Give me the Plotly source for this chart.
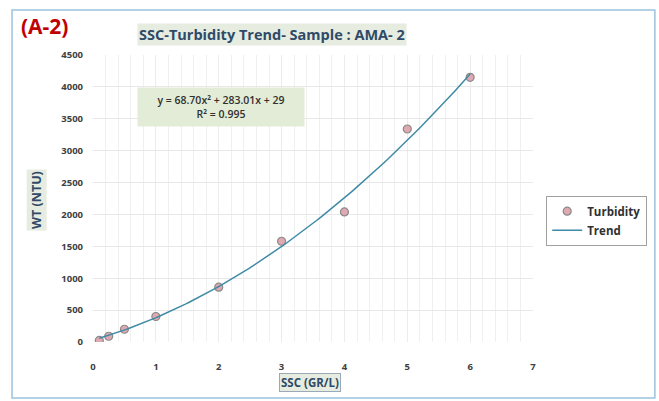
import plotly.graph_objects as go
import numpy as np

ssc = [0.1, 0.25, 0.5, 1, 2, 3, 4, 5, 6]
turbidity = [25, 90, 200, 400, 860, 1580, 2040, 3340, 4150]
coef = [68.70, 283.01, 29]
x_ticks = [0, 1, 2, 3, 4, 5, 6, 7]
y_ticks = [0, 500, 1000, 1500, 2000, 2500, 3000, 3500, 4000, 4500]

xt = np.linspace(min(ssc), max(ssc), 100)
yt = coef[0] * xt**2 + coef[1] * xt + coef[2]

fig = go.Figure()
fig.add_trace(go.Scatter(x=ssc, y=turbidity, mode="markers", name="Turbidity",
                         marker=dict(size=8, color="#e0a9b1", line=dict(color="#8a8a8a", width=1.2))))
fig.add_trace(go.Scatter(x=xt, y=yt, mode="lines", name="Trend",
                         line=dict(color="#3f8aa6", width=1.5)))

tf = dict(size=9.5, color="#404040", family="Open Sans", weight="bold")
fig.update_layout(
    width=659, height=401,
    margin=dict(l=93, r=126, t=55, b=59),
    paper_bgcolor="white", plot_bgcolor="white",
    font=dict(family="Open Sans", color="#404040"),
    showlegend=True,
    legend=dict(x=1.03, y=0.51, xanchor="left", yanchor="top",
                bordercolor="#a0a0a0", borderwidth=1, bgcolor="white", tracegroupgap=0,
                itemwidth=30,
                font=dict(size=11.5, color="#303030", family="Open Sans", weight="bold")),
    xaxis=dict(range=[0, 7], tickvals=x_ticks, showgrid=True, gridcolor="#ececec",
               minor=dict(dtick=0.2, showgrid=True, gridcolor="#f0f0f0"),
               zeroline=False, showline=False, ticks="", automargin=False,
               tickfont=tf, ticklabelstandoff=17),
    yaxis=dict(range=[0, 4500], tickvals=y_ticks, showgrid=True, gridcolor="#e8e8e8",
               zeroline=False, showline=False, ticks="", automargin=False,
               tickfont=tf, ticklabelstandoff=9),
)

# outer border
fig.add_shape(type="rect", xref="paper", yref="paper", x0=-0.184, x1=1.277, y0=-0.195, y1=1.157,
              line=dict(color="#9cc3dd", width=1.5), fillcolor="rgba(0,0,0,0)", layer="below")

fig.add_annotation(xref="paper", yref="paper", x=-0.168, y=1.1, xanchor="left", yanchor="middle",
                   text="<b>(A-2)</b>", showarrow=False, font=dict(size=21, color="#c00000", family="Open Sans"))
fig.add_annotation(xref="paper", yref="paper", x=0.407, y=1.073, xanchor="center", yanchor="middle",
                   text="<b>SSC-Turbidity Trend- Sample : AMA- 2</b>", showarrow=False, bgcolor="#e6ece0",
                   font=dict(size=14.5, color="#2f4a68", family="Open Sans"))
fig.add_annotation(xref="paper", yref="paper", x=0.29, y=0.82, xanchor="center", yanchor="middle",
                   text="y = 68.70x² + 283.01x + 29<br>R² = 0.995", showarrow=False, bgcolor="#e3ecd6",
                   borderpad=3, width=160, height=32, align="center",
                   font=dict(size=10.5, color="#303030", family="Open Sans", weight=600))
fig.add_annotation(xref="paper", yref="paper", x=-0.127, y=0.495, xanchor="center", yanchor="middle",
                   text="<b>WT (NTU)</b>", textangle=-90, showarrow=False, bgcolor="#e6ece0",
                   font=dict(size=12.5, color="#2f4a68", family="Open Sans"))
fig.add_annotation(xref="paper", yref="paper", x=0.493, y=-0.142, xanchor="center", yanchor="middle",
                   text="<b>SSC (GR/L)</b>", showarrow=False, bgcolor="#e6ece0", bordercolor="#9aa8b8", borderwidth=1,
                   font=dict(size=11.5, color="#2f4a68", family="Open Sans"))

fig.write_html("out.html", config={"displayModeBar": False},
               post_script="document.body.style.margin='0';")
